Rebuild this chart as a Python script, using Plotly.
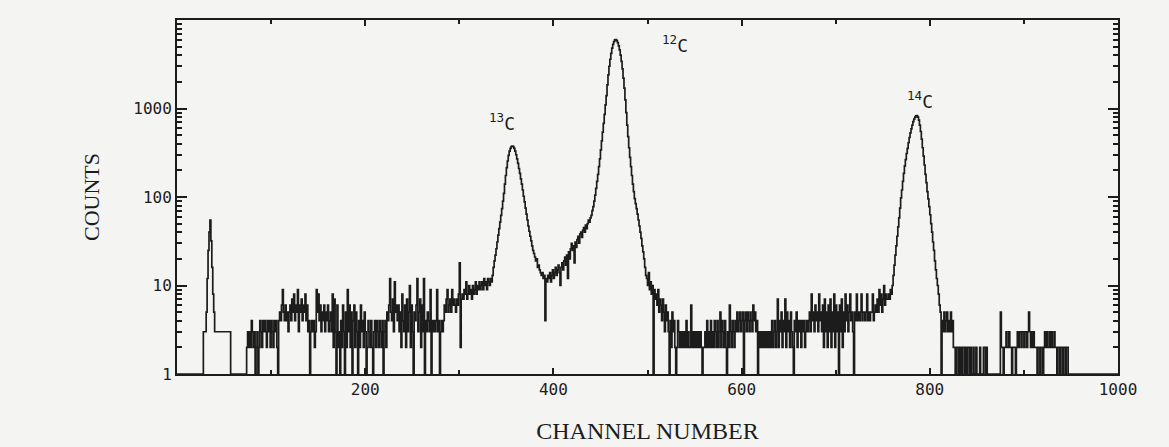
import numpy as np
import plotly.graph_objects as go

# Counts per channel, one list per region of the spectrum.

# channels 0-73: empty start and the small pulser/reference line
pulser_region = [
    0, 0, 0, 0, 0, 0, 0, 0, 0, 0,
    0, 0, 0, 0, 0, 0, 0, 0, 0, 0,
    0, 0, 0, 0, 0, 0, 0, 0,
    3, 3, 3, 5, 12, 25, 40, 55, 32, 16,
    8, 5, 3, 3, 3, 3, 3, 3, 3, 3,
    3, 3, 3, 3, 3, 3, 3, 3, 3,
    0, 0, 0, 0, 0, 0, 0, 0, 0, 0, 0, 0, 0, 0, 0, 0, 0,
]

# channels 74-335: background below the 13C line
bg_low = [
    2, 3, 2, 3, 2, 4, 3, 2, 3, 0,
    2, 3, 0, 2, 4, 3, 2, 4, 3, 4,
    3, 2, 4, 3, 4, 2, 4, 3, 2, 4,
    3, 4, 2, 0, 4, 5, 4, 6, 9, 5,
    4, 6, 4, 5, 3, 5, 6, 4, 7, 5,
    8, 4, 6, 5, 9, 3, 6, 5, 7, 4,
    6, 5, 8, 4, 6, 3, 4, 0, 3, 4,
    3, 4, 2, 3, 9, 5, 8, 4, 6, 3,
    5, 4, 6, 3, 5, 4, 6, 3, 4, 5,
    3, 8, 2, 7, 3, 1, 6, 2, 3, 0,
    4, 2, 6, 3, 0, 5, 2, 9, 3, 6,
    2, 5, 0, 4, 6, 2, 5, 3, 0, 4,
    2, 6, 3, 4, 2, 5, 3, 0, 2, 4,
    3, 2, 4, 2, 0, 3, 4, 2, 4, 3,
    2, 4, 3, 2, 4, 1, 3, 4, 2, 5,
    4, 6, 12, 5, 4, 7, 3, 11, 5, 6,
    4, 6, 3, 5, 2, 8, 4, 3, 6, 2,
    7, 3, 5, 10, 2, 6, 3, 0, 5, 4,
    6, 12, 3, 5, 7, 2, 6, 3, 12, 0,
    4, 3, 5, 4, 3, 9, 0, 4, 3, 4,
    3, 4, 9, 3, 4, 0, 3, 4, 3, 4,
    6, 5, 7, 9, 5, 6, 7, 5, 9, 6,
    7, 6, 5, 7, 6, 8, 18, 2, 7, 8,
    7, 9, 8, 11, 7, 8, 10, 8, 9, 7,
    10, 8, 9, 11, 8, 10, 9, 11, 9, 10,
    11, 9, 12, 10, 11, 9, 12, 11, 10, 12, 11, 13,
]

# channels 336-390: 13C peak
peak_13c = [
    16, 19, 22, 26, 31, 37, 44, 52, 62, 74,
    90, 110, 140, 175, 215, 255, 295, 330, 355, 370,
    375, 370, 355, 330, 300, 270, 240, 210, 185, 160,
    140, 120, 102, 88, 75, 64, 55, 47, 41, 36,
    32, 28, 25, 23, 21, 19, 20, 16, 17, 15,
    14, 13, 14, 12, 13,
]

# channels 391-444: valley between 13C and 12C
valley = [
    4, 12, 11, 13, 12, 14, 11, 13, 15, 12,
    14, 16, 13, 15, 17, 14, 10, 16, 18, 15,
    19, 21, 17, 22, 12, 24, 20, 26, 30, 25,
    28, 18, 31, 27, 33, 36, 30, 38, 40, 35,
    42, 45, 40, 48, 44, 50, 55, 52, 58, 62,
    70, 78, 90, 105,
]

# channels 445-532: 12C peak and its tail
peak_12c = [
    125, 150, 180, 220, 270, 340, 430, 540, 680, 860,
    1100, 1400, 1850, 2400, 3000, 3600, 4200, 4800, 5300, 5700,
    5950, 6000, 5850, 5550, 5100, 4600, 4000, 3400, 2800, 2200,
    1700, 1250, 900, 650, 480, 360, 280, 220, 175, 140,
    115, 96, 84, 74, 64, 55, 47, 40, 34, 28,
    24, 20, 16, 13, 12, 10, 14, 9, 11, 8,
    10, 0, 9, 7, 8, 6, 9, 5, 7, 6,
    4, 7, 5, 3, 6, 4, 5, 3, 0, 4,
    2, 5, 3, 4, 2, 0, 2, 4,
]

# channels 533-754: background between 12C and 14C
bg_mid = [
    3, 2, 3, 2, 3, 2, 3, 2, 4, 2,
    3, 2, 2, 6, 2, 3, 2, 3, 2, 3,
    2, 3, 2, 3, 2, 0, 2, 2, 3, 2,
    4, 2, 3, 2, 4, 2, 3, 2, 4, 3,
    2, 4, 2, 3, 5, 2, 4, 3, 2, 4,
    2, 0, 3, 2, 6, 3, 2, 4, 3, 2,
    4, 3, 5, 3, 4, 5, 3, 4, 5, 0,
    4, 5, 3, 5, 4, 3, 5, 4, 3, 6,
    4, 5, 3, 4, 0, 3, 2, 3, 2, 3,
    2, 3, 2, 3, 2, 3, 2, 3, 2, 4,
    2, 3, 4, 2, 3, 7, 2, 4, 3, 5,
    2, 4, 3, 7, 2, 5, 3, 4, 2, 5,
    3, 2, 0, 4, 3, 5, 2, 4, 3, 4,
    2, 4, 3, 4, 2, 3, 4, 3, 4, 5,
    3, 8, 4, 5, 3, 6, 4, 5, 3, 8,
    4, 5, 3, 6, 2, 7, 3, 5, 2, 6,
    3, 7, 2, 5, 3, 8, 2, 6, 3, 5,
    0, 6, 3, 7, 2, 5, 3, 8, 4, 6,
    3, 5, 8, 4, 5, 3, 0, 5, 4, 8,
    4, 5, 4, 5, 8, 4, 5, 5, 4, 5,
    8, 4, 5, 4, 5, 5, 8, 4, 5, 6,
    5, 7, 5, 9, 6, 8, 5, 7, 10, 6,
    8, 7,
]

# channels 755-811: 14C peak
peak_14c = [
    7, 8, 7, 9, 8, 10, 13, 17, 22, 28,
    36, 46, 58, 75, 98, 120, 150, 185, 225, 265,
    310, 355, 410, 470, 530, 590, 650, 710, 760, 800,
    825, 830, 800, 740, 650, 550, 450, 360, 290, 230,
    180, 145, 115, 95, 78, 63, 50, 40, 31, 25,
    19, 15, 12, 10, 8, 6, 5,
]

# channels 812-999: high-channel background
bg_high = [
    0, 4, 3, 5, 3, 4, 5, 3, 4, 3,
    5, 3, 4, 2, 2, 1, 2, 2, 1, 2,
    0, 2, 1, 2, 2, 1, 2, 0, 2, 2,
    1, 2, 0, 0, 2, 0, 0, 2, 1, 0,
    0, 2, 0, 0, 0, 2, 2, 0, 2, 0,
    0, 0, 0, 0, 0, 0, 0, 0, 0, 0,
    0, 0, 0, 5, 2, 2, 1, 2, 2, 3,
    2, 2, 3, 2, 2, 1, 2, 2, 2, 1,
    2, 3, 2, 3, 3, 2, 3, 3, 2, 3,
    3, 2, 3, 5, 3, 2, 3, 2, 3, 2,
    2, 2, 1, 2, 2, 0, 2, 2, 1, 2,
    3, 2, 3, 2, 2, 3, 2, 3, 2, 2,
    3, 2, 2, 1, 2, 2, 0, 2, 2, 1,
    2, 2, 0, 2, 2, 0, 0, 0, 0, 0,
    0, 0, 0, 0, 0, 0, 0, 0, 0, 0,
    0, 0, 0, 0, 0, 0, 0, 0, 0, 0,
    0, 0, 0, 0, 0, 0, 0, 0, 0, 0,
    0, 0, 0, 0, 0, 0, 0, 0, 0, 0,
    0, 0, 0, 0, 0, 0, 0, 0,
]

x_tick_values = [200, 400, 600, 800, 1000]
y_tick_values = [1, 10, 100, 1000]
peak_labels = ["<sup>13</sup>C", "<sup>12</sup>C", "<sup>14</sup>C"]

counts = np.array(pulser_region + bg_low + peak_13c + valley + peak_12c
                  + bg_mid + peak_14c + bg_high)
channels = np.arange(len(counts))

# log axis: empty channels are drawn on the baseline (1 count)
y_plot = np.maximum(counts, 1)
x_step = np.append(channels, channels[-1] + 1)
y_step = np.append(y_plot, y_plot[-1])

ink = "#1c1c1c"
paper = "#f4f4f2"
num_font = dict(family="DejaVu Sans Mono", size=16, color=ink)

fig = go.Figure()
fig.add_trace(go.Scatter(
    x=x_step, y=y_step, mode="lines",
    line=dict(shape="hv", width=1.7, color=ink),
    hoverinfo="skip", showlegend=False,
))

# isotope labels placed above each peak (x in channels, y in log10 counts)
label_pos = [(345, 2.85), (529, 3.73), (790, 3.10)]
for text, (lx, ly) in zip(peak_labels, label_pos):
    fig.add_annotation(x=lx, y=ly, xref="x", yref="y", text=text,
                       showarrow=False,
                       font=dict(family="DejaVu Sans Mono", size=18, color=ink))

fig.update_layout(
    width=1169, height=447,
    margin=dict(l=177, r=51, t=20, b=73),
    paper_bgcolor=paper, plot_bgcolor=paper,
    showlegend=False,
    xaxis=dict(
        range=[0, 1000], tickmode="array", tickvals=x_tick_values,
        ticks="inside", ticklen=6, tickwidth=1.5, tickcolor=ink,
        minor=dict(dtick=100, ticks="inside", ticklen=4, tickcolor=ink, showgrid=False),
        showline=True, linewidth=2, linecolor=ink, mirror="ticks",
        showgrid=False, zeroline=False, tickfont=num_font, automargin=False,
        title=dict(text="CHANNEL NUMBER", standoff=24,
                   font=dict(family="Liberation Serif", size=24, color=ink)),
    ),
    yaxis=dict(
        type="log", range=[0, 4], tickmode="array", tickvals=y_tick_values,
        ticktext=[str(v) for v in y_tick_values],
        ticks="inside", ticklen=10, tickwidth=1.5, tickcolor=ink,
        minor=dict(dtick="D1", ticks="inside", ticklen=5, tickcolor=ink, showgrid=False),
        showline=True, linewidth=2, linecolor=ink, mirror="ticks",
        showgrid=False, zeroline=False, tickfont=num_font, automargin=False,
        title=dict(text="COUNTS", standoff=28,
                   font=dict(family="Liberation Serif", size=22, color=ink)),
    ),
)

fig.write_html("out.html")
